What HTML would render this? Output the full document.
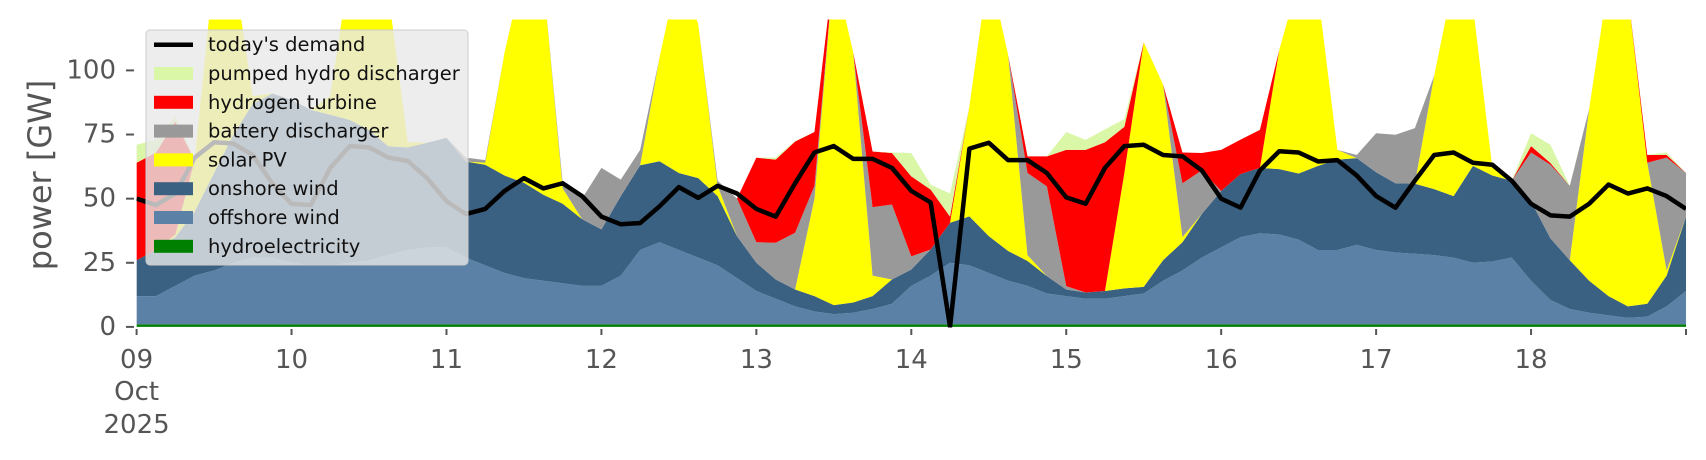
<!DOCTYPE html>
<html><head><meta charset="utf-8">
<style>
html,body{margin:0;padding:0;background:#fff;}
svg{display:block;font-family:"DejaVu Sans","Liberation Sans",sans-serif;}
</style></head>
<body>
<svg id="chart" width="1706" height="460" viewBox="0 0 1706 460" xmlns="http://www.w3.org/2000/svg">
<defs><clipPath id="plotclip"><rect x="136.6" y="19.5" width="1549.4" height="308"/></clipPath></defs>
<g id="areas" clip-path="url(#plotclip)"></g>
<g id="demand" clip-path="url(#plotclip)"></g>
<g id="axes"></g>
<text x="40" y="175" font-size="32" fill="#555" text-anchor="middle" dominant-baseline="central" transform="rotate(-90 40 175)">power [GW]</text>
<g id="legend"></g>
</svg>
<script>
// hours 0..240 step 3
const hydro = [1,1,1,1,1,1,1,1, 1,1,1,1,1,1,1,1, 1,1,1,1,1,1,1,1, 1,1,1,1,1,1,1,1, 1,1,1,1,1,1,1,1, 1,1,1,1,1,1,1,1, 1,1,1,1,1,1,1,1, 1,1,1,1,1,1,1,1, 1,1,1,1,1,1,1,1, 1,1,1,1,1,1,1,1,1];
const offshore = [11,11,15,19,21,24,26,26, 24,23,23,24,25,27,29,30, 30,26,23,20,18,17,16,15, 15,19,29,32,29,26,23,18, 13,10,7,5,4,4.5,6,8, 15,19,24,23,20,17,15,12, 11,10,10,11,12,17,21,26, 30,34,35.5,35,33,29,29,31, 29,28,27.5,27,26,24,24.5,26, 17,9.5,6,4.5,3.5,2.5,3,7,13];
const onshore = [14,18,19,25,38,50,60,64, 63.5,60.6,58.7,55.7,50.8,42.4,40,40.8, 42.7,37.5,39.2,38,37.2,33.5,31,26, 22,31,33,31.6,30,31,27,16.4, 11,7.5,6.6,6,3.5,4,5,9.5, 6.4,10.2,15.6,19.1,14.4,11.6,9.7,6.8, 2.6,2.4,3,3,2.6,8,11,17, 22,24.6,25.5,25.5,25.8,32.8,35.2,33.8, 30.3,27,27.3,25.7,24,37.8,33.5,30, 31,24,19,12.5,7.5,4.5,5,12,29];
const solar = [0,0,1,20,80,65,3,0, 0,0,7.3,59.3,63.2,59.6,2,0, 0,0,0.8,48,83.8,83.5,6,0, 0,0,0,40.4,80,60,4,0, 0,0,0,38,131.5,97.5,8,0, 0,0,0,42.9,104.6,76.4,2.3,0, 0,0,0,45,95.4,68.5,2,0, 0,0,0,46.5,75.2,67.2,3.8,0, 0,0,0,44.3,84,62.2,3,0, 0,0,0,67,123,122,55,2,0];
const battery = [0,0,0,0,0,0,0,0, 0,0,0,0,0,0,0,0, 0,1.5,1,0,0,0,2,8, 24,6.4,6,0,0,0,2,14.6, 8,14.3,22.1,5,0,0,26.7,29.2, 5.1,0,0,0,0,0,32,35, 1.3,0,0,0,0,0,21,17, 0,0,0,0,0,0,0,1.2, 15.2,18.9,21.7,0,0,0,0,0, 19,28.7,29,0,0,0,0,44,17];
const hydrogen = [38,38,44,0,0,0,0,0, 0,0,0,0,0,0,0,0, 0,0,0,0,0,0,0,0, 0,0,0,0,0,0,0,0, 33,32.4,35.6,21,0,0,21.7,20.1, 31.2,23.3,2.4,0,0,0,6.5,11.7, 53.1,55.6,58,18,0,0,12,6.8, 16,13.4,14.8,0,0,0,0,0, 0,0,0,0,0,0,0,0, 2.5,0.7,0,0,0,0,3,1,0];
const pumped = [7,5,2,0,0,0,0,0, 0,0,0,0,0,0,0,0, 0,0,0,0,0,0,0,0, 0,0,0,0,0,0,0,0, 0,0.8,0.2,0,0,0,0,0.2, 9.1,1.9,9,0,0,0,0,0, 7,3.9,5,3,0,0,0,0, 0,0,0,0,0,0,0,0, 0,0,0,0,0,0,0,0, 5,7.1,0,0,0,0,0,1,0];
const demand = [50,47.5,52,66,72,71.5,67,56, 48,47.5,62,70.5,70,66,64.7,58, 49,44,46,53,58,54,56,51, 43,40,40.5,47,54.5,50.3,55,52, 46,43,56,68,70.5,65.5,65.5,62, 53,48.5,0,69.5,71.8,65,65,60, 50.5,48,62,70.5,71,67,66.5,61, 50,46.5,61,68.5,68,64.5,65,59, 51,46.5,57,67,68,64,63.2,57, 48,43.5,43,48,55.5,52,54,51,46];
const yTicks = [0,25,50,75,100];
const xTickLabels = ['09','10','11','12','13','14','15','16','17','18'];
const legendLabels = ["today's demand","pumped hydro discharger","hydrogen turbine","battery discharger","solar PV","onshore wind","offshore wind","hydroelectricity"];

const NS='http://www.w3.org/2000/svg';
const X0=136.6, X1=1686, Y0=326.9, PXGW=2.565, HSTEP=3, HMAX=240;
function xs(h){return X0+h*(X1-X0)/HMAX;}
function ys(v){return Y0-v*PXGW;}
function mk(tag,attrs,parent){const e=document.createElementNS(NS,tag);for(const k in attrs)e.setAttribute(k,attrs[k]);parent.appendChild(e);return e;}

const layers=[
 {name:'hydroelectricity-area',data:hydro,color:'#008000'},
 {name:'offshore-wind-area',data:offshore,color:'#5b82a6'},
 {name:'onshore-wind-area',data:onshore,color:'#3b6182'},
 {name:'solar-pv-area',data:solar,color:'#ffff00'},
 {name:'battery-discharger-area',data:battery,color:'#999999'},
 {name:'hydrogen-turbine-area',data:hydrogen,color:'#ff0000'},
 {name:'pumped-hydro-area',data:pumped,color:'#d9f7a6'}
];
const areasG=document.getElementById('areas');
let base=new Array(demand.length).fill(0);
layers.forEach(L=>{
  const top=base.map((b,i)=>b+L.data[i]);
  let d='';
  top.forEach((v,i)=>{d+=(i?'L':'M')+xs(i*HSTEP).toFixed(2)+' '+ys(v).toFixed(2);});
  for(let i=base.length-1;i>=0;i--){d+='L'+xs(i*HSTEP).toFixed(2)+' '+ys(base[i]).toFixed(2);}
  d+='Z';
  const p=mk('path',{d:d,fill:L.color,stroke:'none'},areasG);
  
  
  base=top;
});

const demG=document.getElementById('demand');
const dl=mk('polyline',{points:demand.map((v,i)=>xs(i*HSTEP).toFixed(2)+','+ys(v).toFixed(2)).join(' '),fill:'none',stroke:'#000','stroke-width':4.5,'stroke-linejoin':'round'},demG);



const ax=document.getElementById('axes');
yTicks.forEach(t=>{
  const y=ys(t);
  const tk=mk('line',{x1:126,x2:134,y1:y,y2:y,stroke:'#555','stroke-width':2},ax);
  
  
  const tx=mk('text',{x:116,y:y,'font-size':26,fill:'#555','text-anchor':'end','dominant-baseline':'central'},ax);
  tx.textContent=String(t);
  
  
});
xTickLabels.forEach((lab,i)=>{
  const x=xs(i*24);
  const tk=mk('line',{x1:x,x2:x,y1:329,y2:335,stroke:'#555','stroke-width':2},ax);
  
  
  const tx=mk('text',{x:x,y:368,'font-size':26,fill:'#555','text-anchor':'middle'},ax);
  tx.textContent=lab;
  
  
});
const endTk=mk('line',{x1:xs(HMAX),x2:xs(HMAX),y1:329,y2:335,stroke:'#555','stroke-width':2},ax);


['Oct','2025'].forEach((s,i)=>{
  const tx=mk('text',{x:xs(0),y:[400,433][i],'font-size':26,fill:'#555','text-anchor':'middle'},ax);
  tx.textContent=s;
  
  
});

const lg=document.getElementById('legend');
const bg=mk('rect',{x:146,y:30,width:322,height:235,rx:4,fill:'rgba(232,232,232,0.8)',stroke:'#cccccc','stroke-width':1},lg);


const swatchColors=['#000','#d9f7a6','#ff0000','#999999','#ffff00','#3b6182','#5b82a6','#008000'];
legendLabels.forEach((lab,i)=>{
  const cy=44.7+i*28.8;
  let sw;
  if(i===0){sw=mk('line',{x1:154,x2:193,y1:cy,y2:cy,stroke:'#000','stroke-width':4.5},lg);}
  else{sw=mk('rect',{x:154,y:cy-6.5,width:39,height:13,fill:swatchColors[i]},lg);}
  
  
  const tx=mk('text',{x:208,y:cy,'font-size':19.5,fill:'#111','dominant-baseline':'central'},lg);
  tx.textContent=lab;
  
  
});
</script>
</body></html>
